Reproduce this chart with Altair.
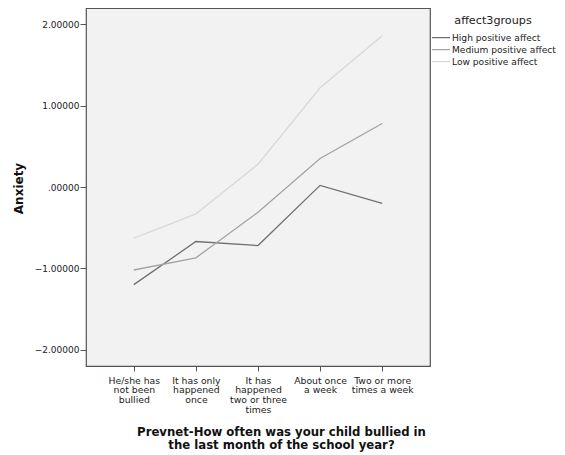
import altair as alt
import pandas as pd

categories = [
    "He/she has\nnot been\nbullied",
    "It has only\nhappened\nonce",
    "It has\nhappened\ntwo or three\ntimes",
    "About once\na week",
    "Two or more\ntimes a week",
]
groups = ["High positive affect", "Medium positive affect", "Low positive affect"]
high = [-1.20, -0.67, -0.72, 0.02, -0.20]
medium = [-1.02, -0.87, -0.31, 0.35, 0.78]
low = [-0.63, -0.33, 0.28, 1.22, 1.86]
colors = ["#707070", "#a3a3a3", "#d8d8d8"]

rows = []
for g, vals in zip(groups, [high, medium, low]):
    for c, v in zip(categories, vals):
        rows.append({"cat": c, "group": g, "value": v})
df = pd.DataFrame(rows)

font = "DejaVu Sans"

chart = alt.Chart(df).mark_line(strokeWidth=1.3).encode(
    x=alt.X("cat:N", sort=categories,
            scale=alt.Scale(type="point", padding=0.77),
            axis=alt.Axis(title=["Prevnet-How often was your child bullied in",
                                 "the last month of the school year?"],
                          labelAngle=0, labelExpr="split(datum.value, '\\n')",
                          labelFont=font, labelFontSize=9.3, labelColor="#222",
                          labelLineHeight=9.8, labelPadding=5,
                          tickColor="#555", tickSize=5, domain=False, grid=False,
                          titleFont=font, titleFontSize=11.7, titleFontWeight="bold",
                          titleColor="#111", titleLineHeight=13.5,
                          titleX=195, titleY=60, titleBaseline="top",
                          titleAnchor="middle")),
    y=alt.Y("value:Q", scale=alt.Scale(domain=[-2.2, 2.2], nice=False, zero=False),
            axis=alt.Axis(title="Anxiety", values=[-2, -1, 0, 1, 2],
                          labelExpr="datum.value == 0 ? '.00000' : format(datum.value, '.5f')",
                          labelFont=font, labelFontSize=9, labelColor="#222",
                          labelPadding=1, tickColor="#555", tickSize=6,
                          domain=False, grid=False,
                          titleFont=font, titleFontSize=12, titleFontWeight="bold",
                          titleColor="#111", titleX=-68, titleY=180,
                          titleBaseline="middle", titleAngle=-90)),
    color=alt.Color("group:N", sort=groups,
                    scale=alt.Scale(domain=groups, range=colors),
                    legend=alt.Legend(title="affect3groups", orient="none",
                                      legendX=345, legendY=7,
                                      symbolType="stroke", symbolSize=324,
                                      symbolStrokeWidth=1.3,
                                      labelFont=font, labelFontSize=9.1, labelColor="#222",
                                      titleFont=font, titleFontSize=11.2,
                                      titleFontWeight="normal", titleColor="#222",
                                      titleAnchor="middle", titlePadding=5.5,
                                      clipHeight=11.7, rowPadding=0, padding=0,
                                      labelOffset=1)),
).properties(
    width=344, height=358,
    autosize=alt.AutoSizeParams(type="none"),
    padding={"left": 78, "top": 0, "right": 127, "bottom": 88},
    background="white",
).configure_view(
    fill="#f2f2f2", stroke="#555555", strokeWidth=1.2
)

chart.save("out.html", embed_options={"renderer": "svg", "actions": False})
